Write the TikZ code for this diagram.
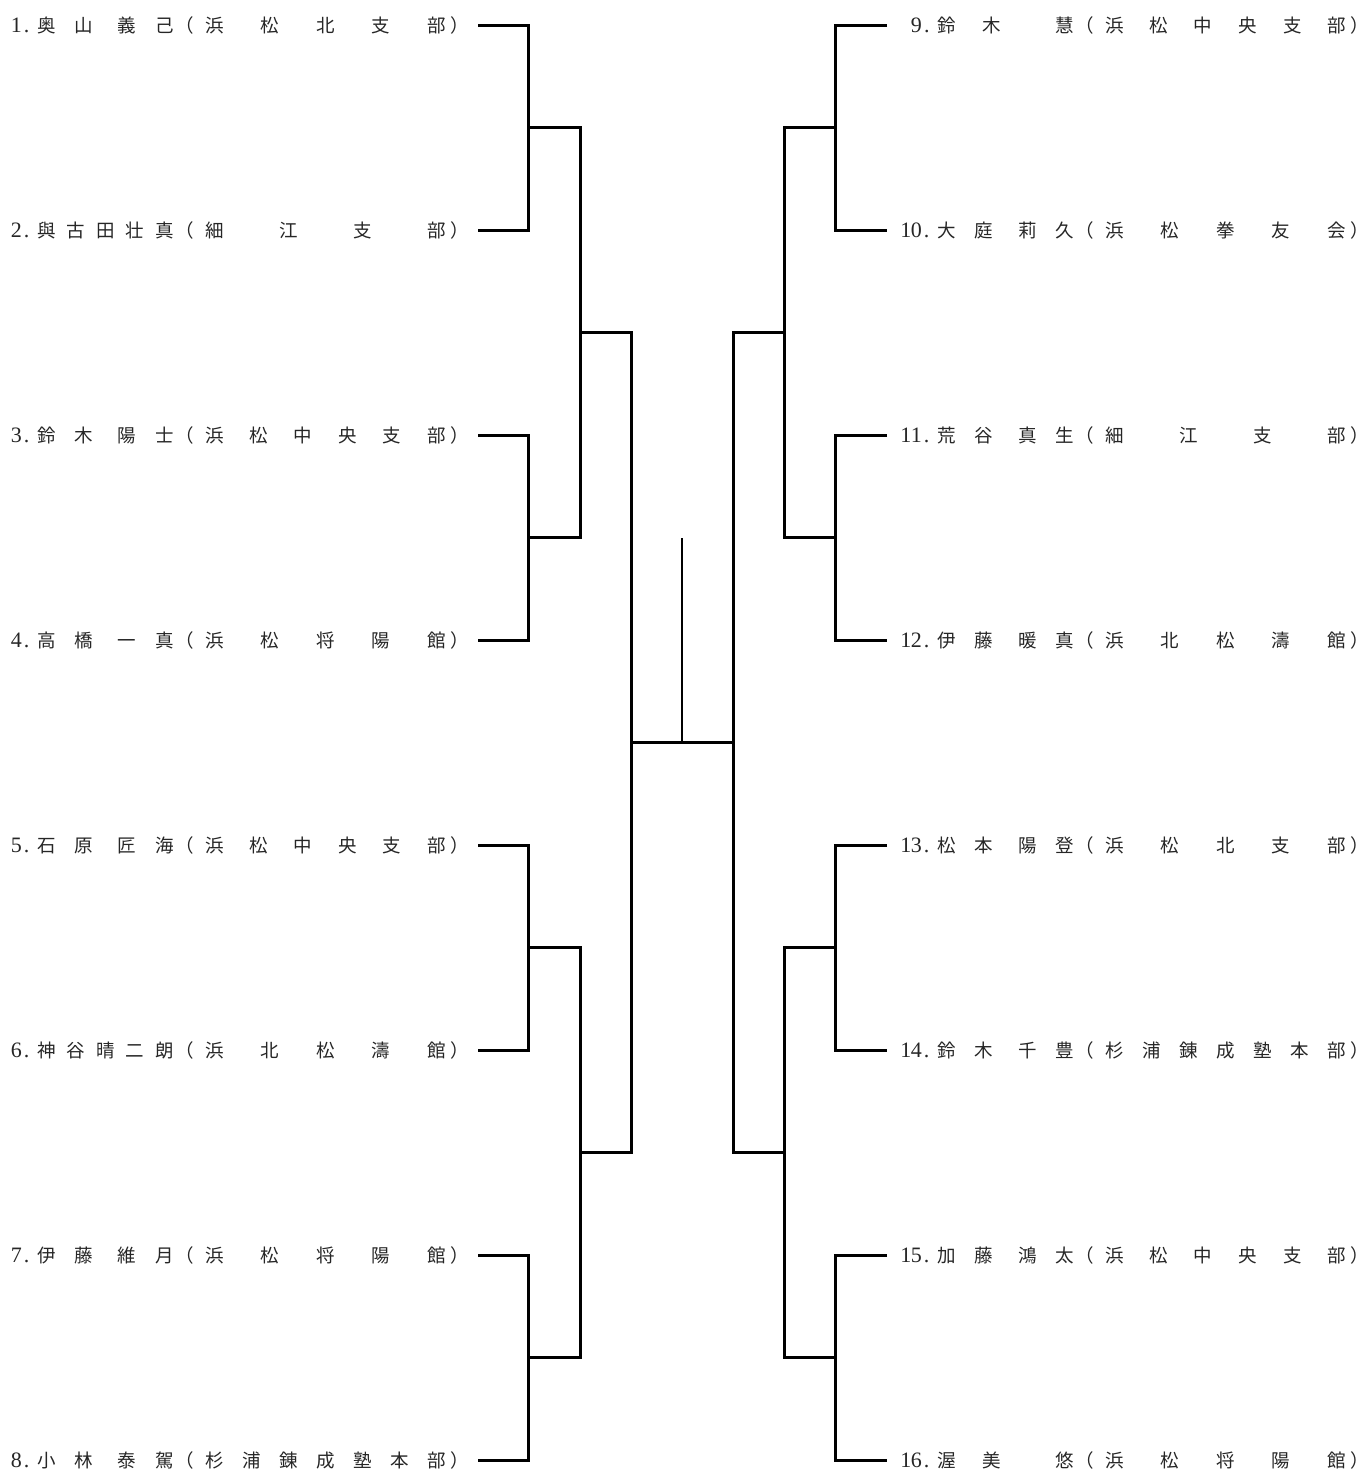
\documentclass[tikz,border=0pt]{standalone}
\usepackage{fontspec}
\newfontfamily\cjk{Noto Sans CJK JP}
\newfontfamily\numf{Liberation Serif}
\tikzset{
  txt/.style={inner sep=0pt, outer sep=0pt, font=\cjk\fontsize{18.5pt}{20pt}\selectfont, text=black!85},
  numtxt/.style={inner sep=0pt, outer sep=0pt, font=\numf\fontsize{22pt}{24pt}\selectfont, text=black!85},
  wire/.style={line width=3pt, line join=miter, black},
  thinwire/.style={line width=2pt, black}
}
\newcommand\hw[1]{\makebox[10.5pt][c]{#1}}
\newcommand\nmA[4]{#1\hfill #2\hspace{6pt}\hfill #3\hfill #4}
\newcommand\nmB[5]{#1\hfill #2\hfill #3\hfill #4\hfill #5}
\newcommand\nmC[3]{#1\hfill #2\hfill\hfill #3}
\newcommand\entry[6]{%
  \node[numtxt, anchor=base east] (#1n) at (#2+32, #3+7.5) {#4};
  \node[txt, anchor=base west] (#1a) at (#2+37, #3+7) {\makebox[137pt][s]{#5}};
  \node[txt, anchor=base west] (#1p) at (#2+175, #3+7) {（};
  \node[txt, anchor=base west] (#1b) at (#2+205, #3+7) {\makebox[241pt][s]{#6}};
  \node[txt, anchor=base west] (#1q) at (#2+450, #3+7) {）};
}
\begin{document}
\begin{tikzpicture}[x=1pt, y=-1pt]
\useasboundingbox (0,0) rectangle (1366,1470);
% left entries
\entry{L1}{0}{25}{\hw{1}\hw{.}}{\nmA{奥}{山}{義}{己}}{浜\hfill 松\hfill 北\hfill 支\hfill 部}
\entry{L2}{0}{230}{\hw{2}\hw{.}}{\nmB{與}{古}{田}{壮}{真}}{細\hfill 江\hfill 支\hfill 部}
\entry{L3}{0}{435}{\hw{3}\hw{.}}{\nmA{鈴}{木}{陽}{士}}{浜\hfill 松\hfill 中\hfill 央\hfill 支\hfill 部}
\entry{L4}{0}{640}{\hw{4}\hw{.}}{\nmA{高}{橋}{一}{真}}{浜\hfill 松\hfill 将\hfill 陽\hfill 館}
\entry{L5}{0}{845}{\hw{5}\hw{.}}{\nmA{石}{原}{匠}{海}}{浜\hfill 松\hfill 中\hfill 央\hfill 支\hfill 部}
\entry{L6}{0}{1050}{\hw{6}\hw{.}}{\nmB{神}{谷}{晴}{二}{朗}}{浜\hfill 北\hfill 松\hfill 濤\hfill 館}
\entry{L7}{0}{1255}{\hw{7}\hw{.}}{\nmA{伊}{藤}{維}{月}}{浜\hfill 松\hfill 将\hfill 陽\hfill 館}
\entry{L8}{0}{1460}{\hw{8}\hw{.}}{\nmA{小}{林}{泰}{駕}}{杉\hfill 浦\hfill 錬\hfill 成\hfill 塾\hfill 本\hfill 部}
% right entries
\entry{R9}{900}{25}{\hw{9}\hw{.}}{\nmC{鈴}{木}{慧}}{浜\hfill 松\hfill 中\hfill 央\hfill 支\hfill 部}
\entry{R10}{900}{230}{\hw{1}\hw{0}\hw{.}}{\nmA{大}{庭}{莉}{久}}{浜\hfill 松\hfill 拳\hfill 友\hfill 会}
\entry{R11}{900}{435}{\hw{1}\hw{1}\hw{.}}{\nmA{荒}{谷}{真}{生}}{細\hfill 江\hfill 支\hfill 部}
\entry{R12}{900}{640}{\hw{1}\hw{2}\hw{.}}{\nmA{伊}{藤}{暖}{真}}{浜\hfill 北\hfill 松\hfill 濤\hfill 館}
\entry{R13}{900}{845}{\hw{1}\hw{3}\hw{.}}{\nmA{松}{本}{陽}{登}}{浜\hfill 松\hfill 北\hfill 支\hfill 部}
\entry{R14}{900}{1050}{\hw{1}\hw{4}\hw{.}}{\nmA{鈴}{木}{千}{豊}}{杉\hfill 浦\hfill 錬\hfill 成\hfill 塾\hfill 本\hfill 部}
\entry{R15}{900}{1255}{\hw{1}\hw{5}\hw{.}}{\nmA{加}{藤}{鴻}{太}}{浜\hfill 松\hfill 中\hfill 央\hfill 支\hfill 部}
\entry{R16}{900}{1460}{\hw{1}\hw{6}\hw{.}}{\nmC{渥}{美}{悠}}{浜\hfill 松\hfill 将\hfill 陽\hfill 館}
% stub ends
\foreach \i/\y in {1/25,2/230,3/435,4/640,5/845,6/1050,7/1255,8/1460}{
  \coordinate (s\i) at (478,\y);
  \coordinate (t\i) at (887,\y);
}
% junctions
\coordinate (j1) at (528,127.5);
\coordinate (j2) at (528,537.5);
\coordinate (j3) at (528,947.5);
\coordinate (j4) at (528,1357.5);
\coordinate (k1) at (580,332.5);
\coordinate (k2) at (580,1152.5);
\coordinate (f1) at (631,742.5);
\coordinate (f2) at (733,742.5);
\coordinate (c) at (682,742.5);
\coordinate (top) at (682,537.5);
\coordinate (r1) at (835,127.5);
\coordinate (r2) at (835,537.5);
\coordinate (r3) at (835,947.5);
\coordinate (r4) at (835,1357.5);
\coordinate (q1) at (784,332.5);
\coordinate (q2) at (784,1152.5);
% left bracket
\draw[wire] (s1) -| (j1) |- (s2);
\draw[wire] (s3) -| (j2) |- (s4);
\draw[wire] (s5) -| (j3) |- (s6);
\draw[wire] (s7) -| (j4) |- (s8);
\draw[wire] (j1) -| (k1) |- (j2);
\draw[wire] (j3) -| (k2) |- (j4);
\draw[wire] (k1) -| (f1) |- (k2);
% final
\draw[wire] (f1) -- (f2);
\draw[thinwire] (c) -- (top);
% right bracket
\draw[wire] (t1) -| (r1) |- (t2);
\draw[wire] (t3) -| (r2) |- (t4);
\draw[wire] (t5) -| (r3) |- (t6);
\draw[wire] (t7) -| (r4) |- (t8);
\draw[wire] (r1) -| (q1) |- (r2);
\draw[wire] (r3) -| (q2) |- (r4);
\draw[wire] (q1) -| (f2) |- (q2);
\end{tikzpicture}
\end{document}
